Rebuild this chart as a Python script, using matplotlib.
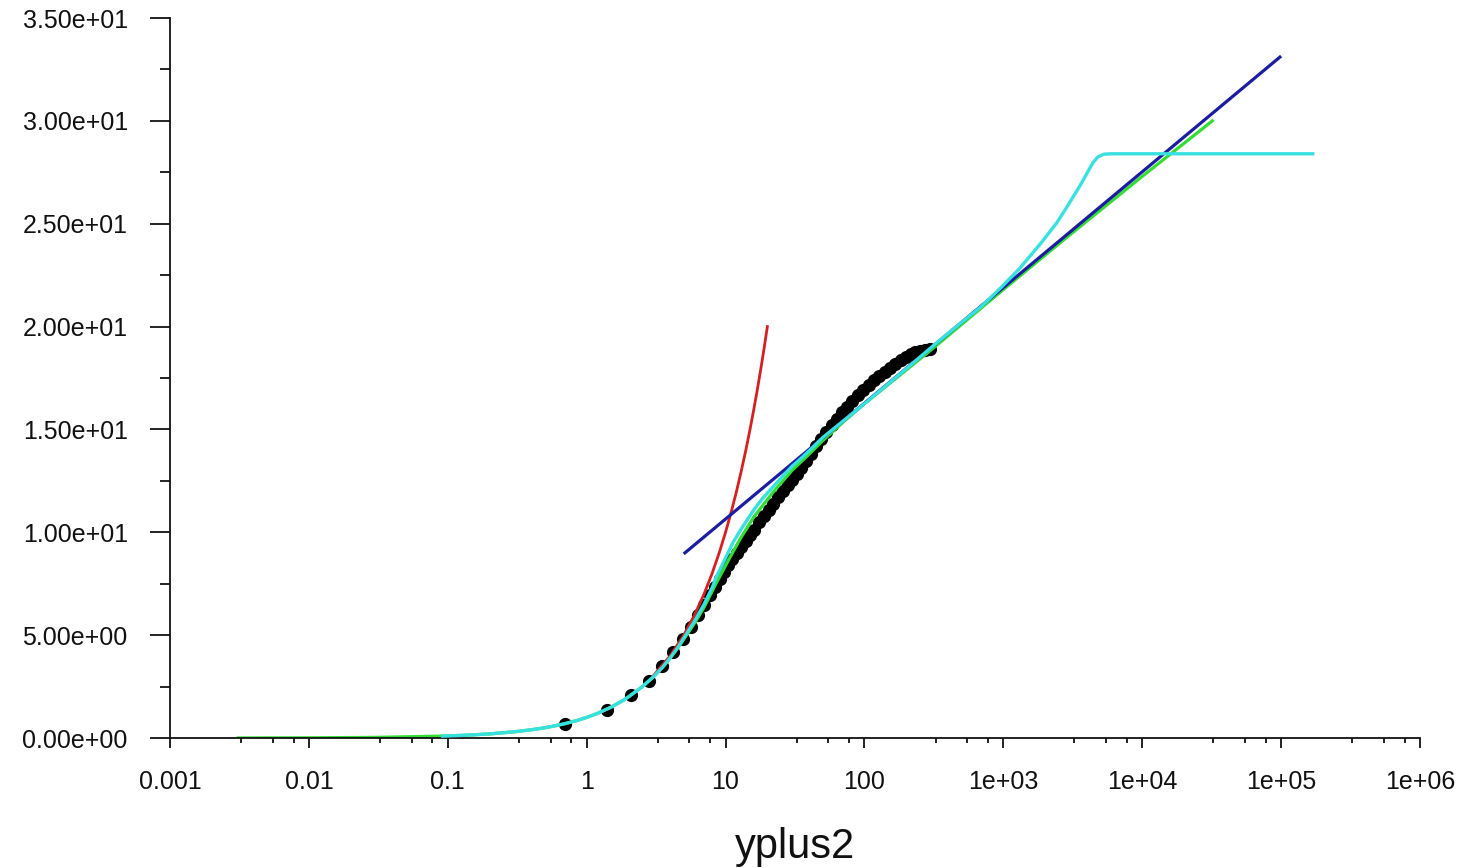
import matplotlib
matplotlib.use("Agg")
import matplotlib.pyplot as plt
from matplotlib.ticker import FixedLocator, NullFormatter

# ---- data ----
# black markers (data points)
dots_x = [0.7, 1.4, 2.1, 2.8, 3.5, 4.2, 4.9, 5.6, 6.3, 7.0, 7.7, 8.4, 9.1, 9.8,
          10.5, 11.2, 12.0, 13.0, 14.0, 15.0, 16.0, 17.5, 19.0, 20.5, 22.0, 24.0,
          26.0, 28.0, 30.0, 32.5, 35.0, 38.0, 41.0, 45.0, 49.0, 53.0, 58.0, 63.0,
          69.0, 75.0, 82.0, 90.0, 98.0, 107.0, 117.0, 128.0, 140.0, 153.0, 167.0,
          182.0, 198.0, 215.0, 233.0, 252.0, 272.0, 295.0]
dots_u = [0.7, 1.38, 2.08, 2.77, 3.48, 4.18, 4.82, 5.42, 5.98, 6.48, 6.93, 7.35, 7.73, 8.08,
          8.4, 8.7, 9.0, 9.3, 9.6, 9.88, 10.12, 10.48, 10.8, 11.1, 11.38, 11.7,
          12.0, 12.3, 12.55, 12.85, 13.12, 13.45, 13.8, 14.2, 14.55, 14.88, 15.22, 15.52,
          15.83, 16.1, 16.38, 16.65, 16.9, 17.15, 17.4, 17.6, 17.8, 18.0, 18.2,
          18.38, 18.52, 18.65, 18.75, 18.82, 18.87, 18.9]

# green curve
green_x = [0.0031, 0.01, 0.03, 0.1, 0.15, 0.2, 0.3, 0.4, 0.5, 0.6, 0.7, 0.85, 1.0,
           1.2, 1.5, 1.8, 2.0, 2.5, 3.0, 3.5, 4.0, 4.5, 5.0, 6.0, 7.0, 8.6,
           10.5, 12.8, 16.0, 22.0, 30.0, 40.0, 50.0, 70.0, 100.0, 300.0, 1000.0,
           3000.0, 10000.0, 32000.0]
green_u = [0.003, 0.01, 0.03, 0.1, 0.15, 0.2, 0.3, 0.4, 0.5, 0.6, 0.7, 0.85, 1.0,
           1.2, 1.5, 1.8, 2.0, 2.48, 2.95, 3.42, 3.9, 4.35, 4.8, 5.6, 6.35, 7.55,
           8.65, 9.7, 10.75, 11.95, 13.0, 13.8, 14.45, 15.35, 16.25, 18.85, 21.8,
           24.45, 27.3, 30.0]

# red curve (viscous sublayer)
red_x = [3.0, 4.0, 5.0, 6.0, 7.0, 8.0, 9.0, 10.0, 11.0, 12.0, 13.0, 14.0, 15.0,
         16.0, 17.0, 18.0, 19.0, 20.0]
red_u = [3.0, 4.0, 5.0, 6.0, 7.0, 8.0, 9.0, 10.0, 11.0, 12.0, 13.0, 14.0, 15.0,
         16.0, 17.0, 18.0, 19.0, 20.0]

# blue line (log law)
blue_x = [5.1, 98000.0]
blue_u = [9.0, 33.1]

# cyan curve
cyan_x = [0.092, 0.15, 0.2, 0.3, 0.4, 0.5, 0.6, 0.7, 0.85, 1.0, 1.2, 1.5, 1.8, 2.0,
          2.5, 3.0, 3.5, 4.0, 4.5, 5.0, 6.0, 7.0, 8.0, 8.6,
          10.0, 11.3, 12.8, 14.3, 16.0, 18.5, 21.9, 26.0, 30.0, 34.4, 42.0, 50.0,
          70.0, 100.0, 200.0, 330.0, 500.0, 700.0, 963.0, 1300.0, 1836.0, 2400.0,
          2800.0, 3565.0, 4000.0, 4400.0, 4800.0, 5300.0, 6000.0, 169000.0]
cyan_u = [0.09, 0.15, 0.2, 0.3, 0.4, 0.5, 0.6, 0.7, 0.85, 1.0, 1.2, 1.5, 1.8, 2.0,
          2.48, 2.95, 3.42, 3.9, 4.37, 4.85, 5.7, 6.5, 7.3, 7.84,
          8.75, 9.5, 10.1, 10.6, 11.1, 11.65, 12.2, 12.75, 13.2, 13.55, 14.1, 14.6,
          15.4, 16.25, 17.95, 19.2, 20.2, 21.0, 21.9, 22.8, 24.0, 25.0,
          25.7, 26.85, 27.45, 27.95, 28.25, 28.38, 28.4, 28.4]

xticks = [1e-3, 1e-2, 1e-1, 1, 10, 100, 1e3, 1e4, 1e5, 1e6]
xtick_labels = ["0.001", "0.01", "0.1", "1", "10", "100", "1e+03", "1e+04", "1e+05", "1e+06"]
yticks = [0, 5, 10, 15, 20, 25, 30, 35]
ytick_labels = ["0.00e+00", "5.00e+00", "1.00e+01", "1.50e+01", "2.00e+01",
                "2.50e+01", "3.00e+01", "3.50e+01"]
minor_mantissas = [3.25, 5.5, 7.75]
xlabel_text = "yplus2"

# ---- figure ----
plt.rcParams['font.family'] = ['Liberation Sans', 'DejaVu Sans']
fig = plt.figure(figsize=(14.63, 8.68), dpi=100)
ax = fig.add_axes([170 / 1463, 1 - 738 / 868, 1250 / 1463, 720 / 868])

ax.plot(dots_x, dots_u, linestyle='none', marker='o', markersize=8.5,
        color='black', zorder=1)
ax.plot(green_x, green_u, color='#33dd33', lw=2.3, zorder=2)
ax.plot(red_x, red_u, color='#d42020', lw=2.0, zorder=3)
ax.plot(blue_x, blue_u, color='#1c1ca0', lw=2.3, zorder=4)
ax.plot(cyan_x, cyan_u, color='#38e0e0', lw=2.4, zorder=5)

ax.set_xscale('log')
ax.set_xlim(1e-3, 1e6)
ax.set_ylim(0, 35)

ax.set_xticks(xticks)
ax.set_xticklabels(xtick_labels)
minor_x = [m * 10.0 ** e for e in range(-3, 6) for m in minor_mantissas]
ax.xaxis.set_minor_locator(FixedLocator(minor_x))
ax.xaxis.set_minor_formatter(NullFormatter())
ax.set_yticks(yticks)
ax.set_yticklabels(ytick_labels)
ax.yaxis.set_minor_locator(FixedLocator([y + 2.5 for y in yticks[:-1]]))

for s in ['top', 'right']:
    ax.spines[s].set_visible(False)
for s in ['left', 'bottom']:
    ax.spines[s].set_linewidth(1.3)
    ax.spines[s].set_color('#111111')

ax.tick_params(axis='y', which='major', direction='out', length=14.4, width=1.3,
               pad=16, labelsize=18, colors='#111111')
ax.tick_params(axis='y', which='minor', direction='out', length=7, width=1.3,
               colors='#111111')
ax.tick_params(axis='x', which='major', direction='out', length=7, width=1.3,
               pad=16, labelsize=18, colors='#111111')
ax.tick_params(axis='x', which='minor', direction='out', length=3.5, width=1.3,
               colors='#111111')

ax.set_xlabel(xlabel_text, fontsize=30, labelpad=24, color='#111111')

fig.savefig('out.png', dpi=100, facecolor='white')
